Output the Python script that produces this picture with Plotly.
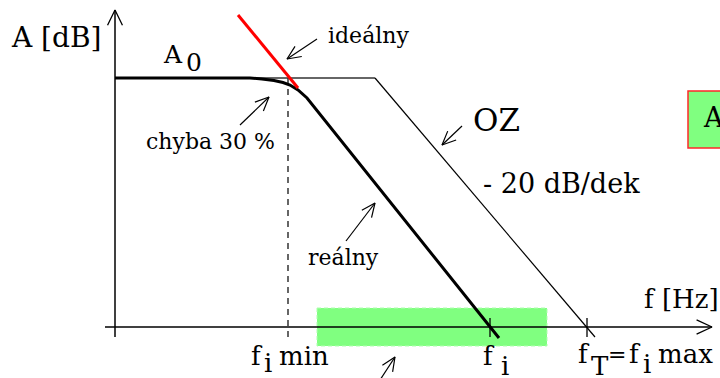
import math
import plotly.graph_objects as go

# Drawing units: x 0..720 (left -> right), y 0..378 (top -> bottom)
W, H = 720, 378

# Axes
y_axis_x = [115, 115]
y_axis_y = [337, 10]
x_axis_x = [105, 712]
x_axis_y = [327, 327]

# Gain level A0 and responses
a0_line_x = [115, 375]
a0_line_y = [78, 78]
oz_x = [375, 595]
oz_y = [78, 337]
real_x = [115, 250, 262, 274, 283, 290, 298, 307, 499]
real_y = [78, 78, 79, 80.5, 82.5, 85, 90, 98, 338]
ideal_x = [238, 298]
ideal_y = [15, 88]

# f_i min marker (dashed)
fmin_x = [288, 288]
fmin_y = [78, 337]

# Tick marks on frequency axis
tick_x = [490, 587]
tick_y0 = [318, 318]
tick_y1 = [337, 337]

# Pointer arrows (tail x, tail y, tip x, tip y)
arrow_tail_x = [317, 240, 462, 346, 380]
arrow_tail_y = [39, 125, 126, 241, 380]
arrow_tip_x = [287, 269, 442, 375, 395]
arrow_tip_y = [59, 97, 145, 203, 357]

# Highlight boxes
band_x = [317, 547]
band_y = [308, 346]
note_box_x = [688, 724]
note_box_y = [91, 148]

# Labels: text, left x, baseline y, font size
label_text = ["A [dB]", "A", "0", "ideálny", "chyba 30 %", "OZ", "- 20 dB/dek",
              "reálny", "f [Hz]",
              "f", "i", "min",
              "f", "i",
              "f", "T", "=", "f", "i", "max",
              "A"]
label_x = [10, 162, 185, 327, 145, 472, 482,
           307, 643,
           250, 263, 278,
           482, 500,
           577, 590, 607, 628, 642, 657,
           702]
label_base = [47, 63, 71, 43, 149, 131, 193,
              265, 308,
              365, 372, 365,
              365, 375,
              363, 375, 362, 363, 373, 363,
              127]
label_size = [28, 25, 25, 22, 22, 31, 27,
              22, 26,
              26, 26, 26,
              26, 26,
              26, 26, 22, 26, 26, 26,
              27]

FONT = "DejaVu Serif"

fig = go.Figure()


def add_line(xs, ys, color="black", width=1.5, dash="solid"):
    fig.add_trace(go.Scatter(x=xs, y=ys, mode="lines", hoverinfo="skip",
                             line=dict(color=color, width=width, dash=dash),
                             showlegend=False, cliponaxis=False))


def add_head(tx, ty, px, py, length=15, ang=24, width=1.2):
    d = math.hypot(px - tx, py - ty)
    ux, uy = (px - tx) / d, (py - ty) / d
    a = math.radians(ang)
    pts = []
    for s in (1, -1):
        c, sn = math.cos(s * a), math.sin(s * a)
        rx, ry = ux * c - uy * sn, ux * sn + uy * c
        pts.append((px - length * rx, py - length * ry))
    add_line([pts[0][0], px, pts[1][0]], [pts[0][1], py, pts[1][1]], width=width)


# Background boxes
fig.add_shape(type="rect", x0=band_x[0], x1=band_x[1], y0=band_y[0], y1=band_y[1],
              xref="x", yref="y", fillcolor="rgb(128,255,128)",
              line=dict(color="rgb(175,255,175)", width=1, dash="4px,3px"), layer="below")
fig.add_shape(type="rect", x0=note_box_x[0], x1=note_box_x[1], y0=note_box_y[0], y1=note_box_y[1],
              xref="x", yref="y", fillcolor="rgb(128,255,128)",
              line=dict(color="rgb(255,40,40)", width=1.5), layer="below")

# Axes with open arrow heads
add_line(y_axis_x, y_axis_y, width=1.5)
add_head(y_axis_x[0], y_axis_y[0], y_axis_x[1], y_axis_y[1], length=17, ang=26, width=1.3)
add_line(x_axis_x, x_axis_y, width=1.5)
add_head(x_axis_x[0], x_axis_y[0], x_axis_x[1], x_axis_y[1], length=17, ang=25, width=1.3)

# Ticks
for tx, t0, t1 in zip(tick_x, tick_y0, tick_y1):
    add_line([tx, tx], [t0, t1], width=1.3)

# Dashed f_i min line
add_line(fmin_x, fmin_y, color="black", width=1.2, dash="6px,5px")

# A0 level and OZ response
add_line(a0_line_x, a0_line_y, color="#333333", width=1.6)
add_line(oz_x, oz_y, color="black", width=1.2)

# Real response
add_line(real_x, real_y, color="black", width=3)

# Ideal asymptote
add_line(ideal_x, ideal_y, color="rgb(255,0,0)", width=3)

# Pointer arrows
for tx, ty, px, py in zip(arrow_tail_x, arrow_tail_y, arrow_tip_x, arrow_tip_y):
    add_line([tx, px], [ty, py], width=1.2)
    add_head(tx, ty, px, py, length=15, ang=24, width=1.2)

# Labels
for t, lx, lb, ls in zip(label_text, label_x, label_base, label_size):
    fig.add_annotation(x=lx, y=lb - 0.346 * ls, xref="x", yref="y", text=t,
                       showarrow=False, xanchor="left", yanchor="middle",
                       font=dict(family=FONT, size=ls, color="black"),
                       borderpad=0)

fig.update_layout(
    width=W, height=H,
    margin=dict(l=0, r=0, t=0, b=0),
    paper_bgcolor="white", plot_bgcolor="white",
    xaxis=dict(range=[0, W], visible=False, fixedrange=True),
    yaxis=dict(range=[H, 0], visible=False, fixedrange=True),
    showlegend=False,
)

fig.write_html(
    "out.html",
    config={"displayModeBar": False, "staticPlot": True},
    post_script="document.body.style.margin='0';document.body.style.overflow='hidden';",
)
